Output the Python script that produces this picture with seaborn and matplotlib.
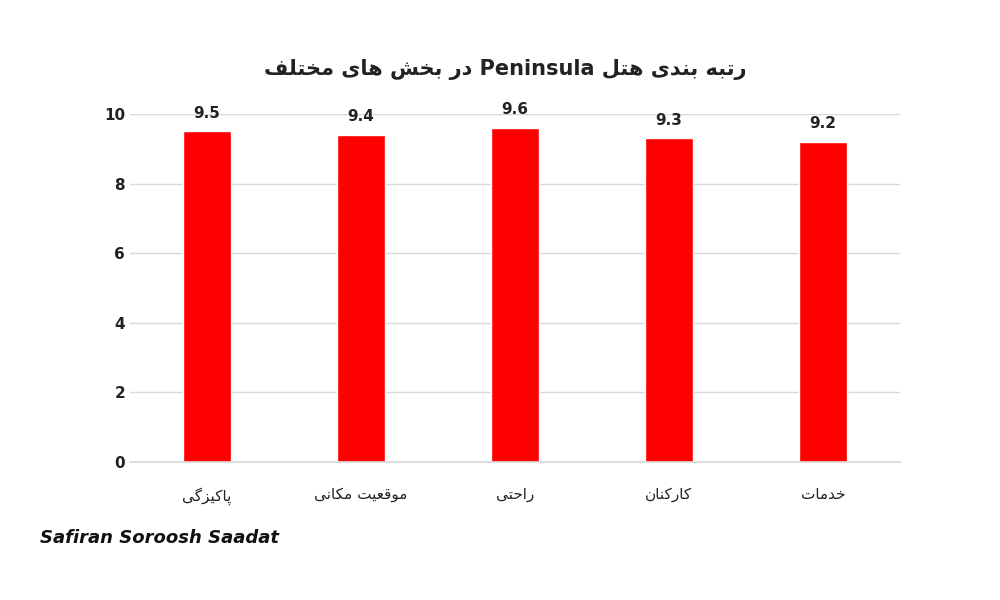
import matplotlib
matplotlib.use("Agg")
import matplotlib.pyplot as plt
import seaborn as sns
import pandas as pd

title_text = "رتبه بندی هتل Peninsula در بخش های مختلف"
categories = ["پاکیزگی", "موقعیت مکانی", "راحتی", "کارکنان", "خدمات"]
values = [9.5, 9.4, 9.6, 9.3, 9.2]

FORMS = {
    'ا': (0xFE8D, 0xFE8E, None, None), 'ب': (0xFE8F, 0xFE90, 0xFE91, 0xFE92),
    'ت': (0xFE95, 0xFE96, 0xFE97, 0xFE98), 'ح': (0xFEA1, 0xFEA2, 0xFEA3, 0xFEA4),
    'خ': (0xFEA5, 0xFEA6, 0xFEA7, 0xFEA8), 'د': (0xFEA9, 0xFEAA, None, None),
    'ر': (0xFEAD, 0xFEAE, None, None), 'ز': (0xFEAF, 0xFEB0, None, None),
    'ش': (0xFEB5, 0xFEB6, 0xFEB7, 0xFEB8), 'ع': (0xFEC9, 0xFECA, 0xFECB, 0xFECC),
    'ف': (0xFED1, 0xFED2, 0xFED3, 0xFED4), 'ق': (0xFED5, 0xFED6, 0xFED7, 0xFED8),
    'ل': (0xFEDD, 0xFEDE, 0xFEDF, 0xFEE0), 'م': (0xFEE1, 0xFEE2, 0xFEE3, 0xFEE4),
    'ن': (0xFEE5, 0xFEE6, 0xFEE7, 0xFEE8), 'ه': (0xFEE9, 0xFEEA, 0xFEEB, 0xFEEC),
    'و': (0xFEED, 0xFEEE, None, None), 'پ': (0xFB56, 0xFB57, 0xFB58, 0xFB59),
    'ک': (0xFB8E, 0xFB8F, 0xFB90, 0xFB91), 'گ': (0xFB92, 0xFB93, 0xFB94, 0xFB95),
    'ی': (0xFBFC, 0xFBFD, 0xFBFE, 0xFBFF), 'س': (0xFEB1, 0xFEB2, 0xFEB3, 0xFEB4),
}

def joins_next(c):
    return c in FORMS and FORMS[c][2] is not None

def shape_word(w):
    out = []
    for i, c in enumerate(w):
        if c not in FORMS:
            out.append(c); continue
        prev = w[i-1] if i > 0 else None
        nxt = w[i+1] if i + 1 < len(w) else None
        jp = prev is not None and joins_next(prev)
        jn = nxt is not None and nxt in FORMS and FORMS[c][2] is not None
        iso, fin, ini, med = FORMS[c]
        if jp and jn: f = med
        elif jp: f = fin
        elif jn: f = ini
        else: f = iso
        out.append(chr(f))
    return "".join(reversed(out))

def rtl(s):
    words = s.split(" ")
    res = []
    for w in reversed(words):
        if any(ch in FORMS for ch in w):
            res.append(shape_word(w))
        else:
            res.append(w)
    return " ".join(res)

sns.set_theme(style="white")
plt.rcParams['font.family'] = ['DejaVu Sans']

df = pd.DataFrame({"cat": [rtl(c) for c in categories], "val": values})
fig = plt.figure(figsize=(10, 6), dpi=100)
ax = fig.add_axes([0.13, 0.23, 0.77, 0.58])
sns.barplot(data=df, x="cat", y="val", color="#FF0000", width=0.31, ax=ax, saturation=1)
ax.set_ylim(0, 10)
ax.set_yticks([0, 2, 4, 6, 8, 10])
ax.yaxis.grid(True, color="#D9D9D9", linewidth=1)
ax.set_axisbelow(True)
for s in ["top", "right", "left"]:
    ax.spines[s].set_visible(False)
ax.spines["bottom"].set_color("#D9D9D9")
ax.set_xlabel(""); ax.set_ylabel("")
ax.tick_params(axis="both", length=0, labelsize=11, colors="#222222")
for lbl in ax.get_yticklabels():
    lbl.set_fontweight("bold")
ax.tick_params(axis="x", pad=18)
for i, v in enumerate(values):
    ax.text(i, v + 0.3, f"{v}", ha="center", va="bottom", fontsize=11, fontweight="bold", color="#222222")
fig.text(0.505, 0.885, rtl(title_text), ha="center", va="center", fontsize=15, fontweight="bold", color="#222222")
fig.text(0.04, 0.095, "Safiran Soroosh Saadat", fontsize=13, fontweight="bold", style="italic", color="#111111")
fig.savefig("out.png", dpi=100)
